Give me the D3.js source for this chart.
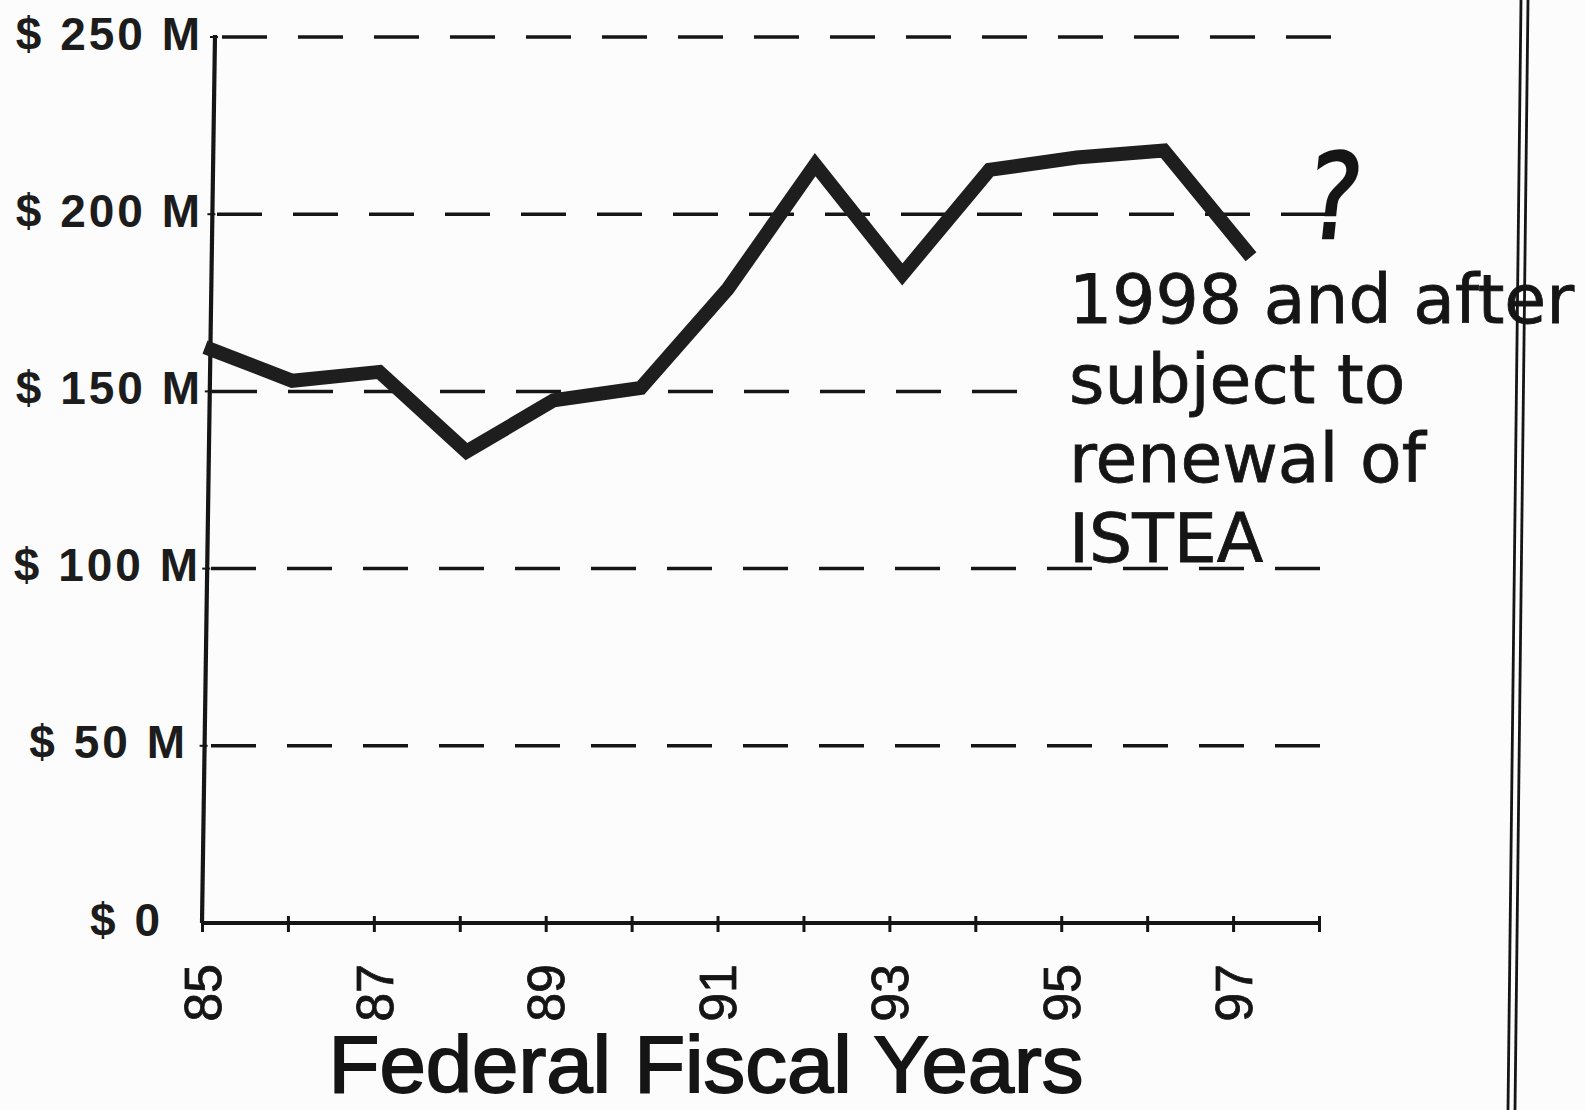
<!DOCTYPE html>
<html>
<head>
<meta charset="utf-8">
<script src="https://cdn.jsdelivr.net/npm/d3@7"></script>
<style>
  html, body { margin: 0; padding: 0; background: #fcfcfc; }
  svg { display: block; }
</style>
</head>
<body>
<script>
// ---------------- data ----------------
const years = [85, 86, 87, 88, 89, 90, 91, 92, 93, 94, 95, 96, 97];
const fundingM = [162.5, 153, 155.5, 133, 147.5, 151, 179, 214, 183, 212.5, 216, 218, 188];
const yTickValues = [0, 50, 100, 150, 200, 250];
const yTickLabels = ["$ 0", "$ 50 M", "$ 100 M", "$ 150 M", "$ 200 M", "$ 250 M"];
const xTickYears = [85, 86, 87, 88, 89, 90, 91, 92, 93, 94, 95, 96, 97, 98];
const xLabelYears = [85, 87, 89, 91, 93, 95, 97];
const xTitle = "Federal Fiscal Years";
const noteLines = ["1998 and after", "subject to", "renewal of", "ISTEA"];
const questionMark = "?";

// ---------------- layout ----------------
const W = 1585, H = 1110;
const ink = "#151515";
const svg = d3.select("body").append("svg").attr("width", W).attr("height", H);
svg.append("rect").attr("width", W).attr("height", H).attr("fill", "#fcfcfc");

const y = d3.scaleLinear().domain([0, 250]).range([923, 37]);
const x = d3.scaleLinear().domain([85, 98]).range([202, 1319]);           // axis ticks
const xLine = d3.scaleLinear().domain([85, 97]).range([205, 1251]);      // plotted series

// the scanned y axis leans slightly: x position at a given pixel row
const axisTopX = 215, axisBotX = 202;
const axisXAt = py => axisTopX + (axisBotX - axisTopX) * (py - y(250)) / (y(0) - y(250));

// gridline extents (the 150 line stops before the note text)
const gridStart = {250: 222, 200: 217, 150: 212, 100: 211, 50: 211};
const gridDashes = {250: 15, 200: 15, 150: 11, 100: 15, 50: 15};
const dashLen = 45, gapLen = 31;
const labelRight = {250: 203, 200: 203, 150: 203, 100: 201, 50: 188, 0: 163};

// dashed gridlines
svg.append("g").selectAll("line")
  .data(yTickValues.filter(v => v > 0))
  .join("line")
  .attr("x1", d => gridStart[d])
  .attr("x2", d => gridStart[d] + (gridDashes[d] - 1) * (dashLen + gapLen) + dashLen)
  .attr("y1", d => y(d)).attr("y2", d => y(d))
  .attr("stroke", ink).attr("stroke-width", 3.5)
  .attr("stroke-dasharray", `${dashLen} ${gapLen}`);

// y axis line + small ticks
svg.append("line").attr("x1", axisTopX).attr("x2", axisBotX).attr("y1", y(250) - 2).attr("y2", y(0))
  .attr("stroke", ink).attr("stroke-width", 4.2);
svg.append("g").selectAll("line").data(yTickValues.filter(v => v > 0)).join("line")
  .attr("x1", d => axisXAt(y(d)) - 5).attr("x2", d => axisXAt(y(d)) + 3)
  .attr("y1", d => y(d)).attr("y2", d => y(d))
  .attr("stroke", ink).attr("stroke-width", 2);

// y labels
svg.append("g").selectAll("text").data(yTickValues).join("text")
  .attr("x", d => labelRight[d])
  .attr("y", d => y(d) - 4)
  .attr("dy", "0.36em")
  .attr("text-anchor", "end")
  .attr("font-family", "'Liberation Sans', Arial, sans-serif")
  .attr("font-weight", "bold")
  .attr("font-size", 46)
  .attr("letter-spacing", 3)
  .attr("fill", "#1c1c1c")
  .text((d, i) => yTickLabels[i]);

// x axis
const xAxis = d3.axisBottom(x)
  .tickValues(xTickYears)
  .tickSize(8)
  .tickFormat("");
const gx = svg.append("g").attr("transform", `translate(0,${y(0)})`).call(xAxis);
gx.select(".domain").attr("stroke", ink).attr("stroke-width", 4).attr("d", `M${x(85)},0H${x(98)}`);
gx.selectAll(".tick line").attr("stroke", ink).attr("stroke-width", 3).attr("y1", -7).attr("y2", 9);

// x tick labels (rotated)
svg.append("g").selectAll("text").data(xLabelYears).join("text")
  .attr("transform", d => `translate(${x(d)},964) rotate(-90)`)
  .attr("dy", "0.36em")
  .attr("text-anchor", "end")
  .attr("font-family", "'Liberation Sans', Arial, sans-serif")
  .attr("font-size", 52)
  .attr("fill", ink)
  .attr("stroke", ink).attr("stroke-width", 0.8)
  .text(d => d);

// x title
svg.append("text")
  .attr("x", 706).attr("y", 1092)
  .attr("text-anchor", "middle")
  .attr("font-family", "'Liberation Sans', Arial, sans-serif")
  .attr("font-size", 80)
  .attr("textLength", 755)
  .attr("lengthAdjust", "spacingAndGlyphs")
  .attr("fill", ink)
  .attr("stroke", ink).attr("stroke-width", 1.8)
  .text(xTitle);

// series line
const line = d3.line().x((d, i) => xLine(years[i])).y(d => y(d));
svg.append("path")
  .datum(fundingM)
  .attr("d", line)
  .attr("fill", "none")
  .attr("stroke", "#1e1e1e")
  .attr("stroke-width", 14)
  .attr("stroke-linejoin", "miter")
  .attr("stroke-linecap", "butt");

// note text
svg.append("g").selectAll("text").data(noteLines).join("text")
  .attr("x", 1069)
  .attr("y", (d, i) => 323 + i * 79.5)
  .attr("font-family", "'DejaVu Sans', sans-serif")
  .attr("font-size", 68)
  .attr("fill", ink)
  .attr("stroke", ink).attr("stroke-width", 0.8)
  .text(d => d);

// question mark
svg.append("text")
  .attr("transform", "translate(1304,238) skewX(-6) scale(0.85,1)")
  .attr("font-family", "'DejaVu Sans', sans-serif")
  .attr("font-size", 118)
  .attr("fill", ink)
  .attr("stroke", ink).attr("stroke-width", 2.5)
  .text(questionMark);

// right border (double rule)
[[1521, 1508], [1528, 1515]].forEach(([t, b]) => {
  svg.append("line").attr("x1", t).attr("y1", 0).attr("x2", b).attr("y2", H)
    .attr("stroke", ink).attr("stroke-width", 2.8);
});
</script>
</body>
</html>
